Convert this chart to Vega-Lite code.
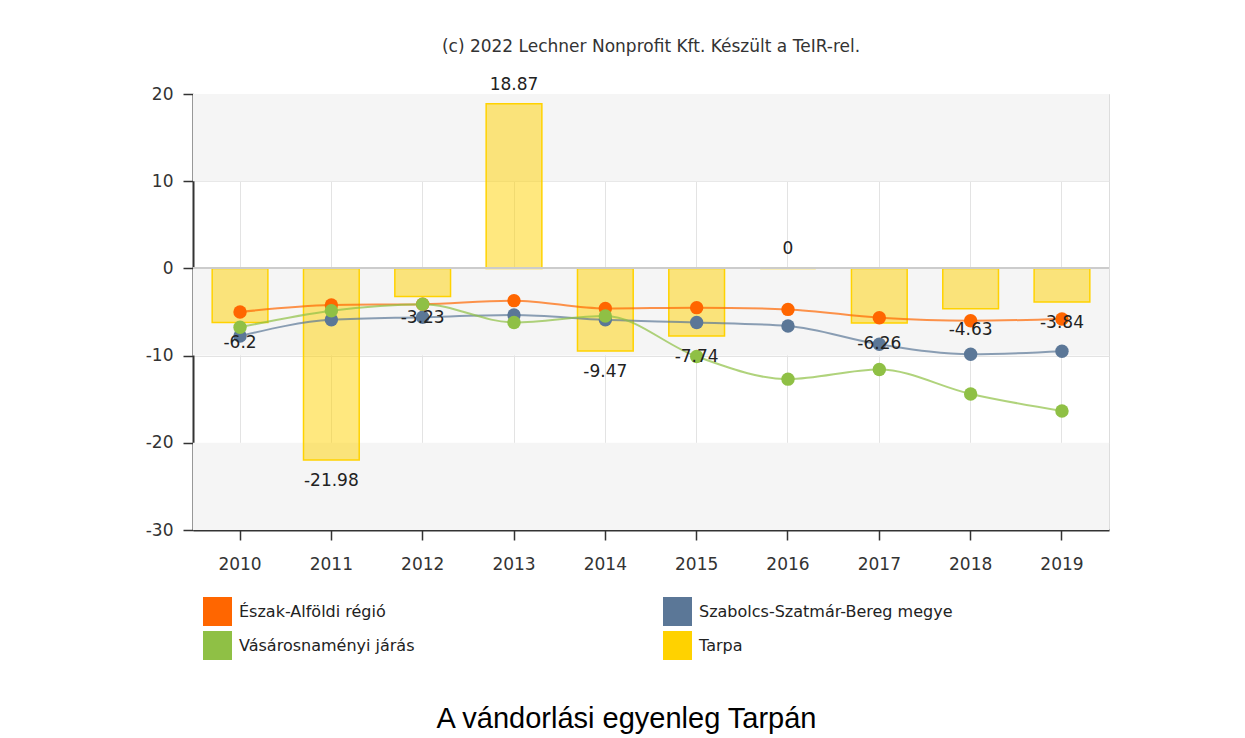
{
  "$schema": "https://vega.github.io/schema/vega-lite/v6.json",
  "width": 916,
  "height": 436,
  "autosize": {"type": "none"},
  "padding": {"left": 193, "top": 94, "right": 136, "bottom": 208},
  "background": "white",
  "title": {
    "text": "(c) 2022 Lechner Nonprofit Kft. Készült a TeIR-rel.",
    "font": "DejaVu Sans",
    "fontSize": 17,
    "fontWeight": "normal",
    "color": "#333333",
    "anchor": "middle",
    "offset": 20
  },
  "datasets": {
    "bands": [
      {"lo": 10, "hi": 20},
      {"lo": -10, "hi": 0},
      {"lo": -30, "hi": -20}
    ],
    "main": [
      {"year": "2010", "series": "Tarpa", "value": -6.2},
      {"year": "2011", "series": "Tarpa", "value": -21.98},
      {"year": "2012", "series": "Tarpa", "value": -3.23},
      {"year": "2013", "series": "Tarpa", "value": 18.87},
      {"year": "2014", "series": "Tarpa", "value": -9.47},
      {"year": "2015", "series": "Tarpa", "value": -7.74},
      {"year": "2016", "series": "Tarpa", "value": 0},
      {"year": "2017", "series": "Tarpa", "value": -6.26},
      {"year": "2018", "series": "Tarpa", "value": -4.63},
      {"year": "2019", "series": "Tarpa", "value": -3.84},
      {"year": "2010", "series": "Észak-Alföldi régió", "value": -5.0},
      {"year": "2011", "series": "Észak-Alföldi régió", "value": -4.2},
      {"year": "2012", "series": "Észak-Alföldi régió", "value": -4.1},
      {"year": "2013", "series": "Észak-Alföldi régió", "value": -3.7},
      {"year": "2014", "series": "Észak-Alföldi régió", "value": -4.6},
      {"year": "2015", "series": "Észak-Alföldi régió", "value": -4.5},
      {"year": "2016", "series": "Észak-Alföldi régió", "value": -4.7},
      {"year": "2017", "series": "Észak-Alföldi régió", "value": -5.65},
      {"year": "2018", "series": "Észak-Alföldi régió", "value": -6.0},
      {"year": "2019", "series": "Észak-Alföldi régió", "value": -5.8},
      {"year": "2010", "series": "Szabolcs-Szatmár-Bereg megye", "value": -7.75},
      {"year": "2011", "series": "Szabolcs-Szatmár-Bereg megye", "value": -5.9},
      {"year": "2012", "series": "Szabolcs-Szatmár-Bereg megye", "value": -5.6},
      {"year": "2013", "series": "Szabolcs-Szatmár-Bereg megye", "value": -5.35},
      {"year": "2014", "series": "Szabolcs-Szatmár-Bereg megye", "value": -5.9},
      {"year": "2015", "series": "Szabolcs-Szatmár-Bereg megye", "value": -6.2},
      {"year": "2016", "series": "Szabolcs-Szatmár-Bereg megye", "value": -6.6},
      {"year": "2017", "series": "Szabolcs-Szatmár-Bereg megye", "value": -8.7},
      {"year": "2018", "series": "Szabolcs-Szatmár-Bereg megye", "value": -9.85},
      {"year": "2019", "series": "Szabolcs-Szatmár-Bereg megye", "value": -9.5},
      {"year": "2010", "series": "Vásárosnaményi járás", "value": -6.75},
      {"year": "2011", "series": "Vásárosnaményi járás", "value": -4.85},
      {"year": "2012", "series": "Vásárosnaményi járás", "value": -4.1},
      {"year": "2013", "series": "Vásárosnaményi járás", "value": -6.2},
      {"year": "2014", "series": "Vásárosnaményi járás", "value": -5.45},
      {"year": "2015", "series": "Vásárosnaményi járás", "value": -10.1},
      {"year": "2016", "series": "Vásárosnaményi járás", "value": -12.7},
      {"year": "2017", "series": "Vásárosnaményi járás", "value": -11.6},
      {"year": "2018", "series": "Vásárosnaményi járás", "value": -14.4},
      {"year": "2019", "series": "Vásárosnaményi járás", "value": -16.35}
    ]
  },
  "data": {"name": "main"},
  "layer": [
    {
      "data": {"name": "bands"},
      "mark": {"type": "rect", "fill": "#f5f5f5"},
      "encoding": {
        "y": {"field": "lo", "type": "quantitative"},
        "y2": {"field": "hi"}
      }
    },
    {
      "transform": [{"filter": "datum.series === 'Tarpa'"}],
      "mark": {"type": "bar", "fill": "#ffd200", "fillOpacity": 0.5, "stroke": "#ffd200", "strokeWidth": 1.5},
      "encoding": {
        "x": {
          "field": "year",
          "type": "ordinal",
          "scale": {"paddingInner": 0.39, "paddingOuter": 0.21},
          "axis": {
            "title": "A vándorlási egyenleg Tarpán",
            "titleFont": "Liberation Sans",
            "titleFontSize": 29,
            "titleFontWeight": "normal",
            "titleColor": "#000000",
            "titleX": 433,
            "titleY": 188,
            "titleBaseline": "middle",
            "titleAlign": "center",
            "labelAngle": 0,
            "labelFont": "DejaVu Sans",
            "labelFontSize": 17,
            "labelColor": "#333333",
            "labelPadding": 16,
            "tickSize": 10,
            "tickColor": "#333333",
            "tickWidth": 1.5,
            "domainColor": "#333333",
            "domainWidth": 2,
            "grid": true,
            "gridColor": "#e3e3e3",
            "bandPosition": 0.5
          }
        },
        "y": {
          "field": "value",
          "type": "quantitative",
          "scale": {"domain": [-30, 20], "nice": false},
          "axis": {
            "title": null,
            "values": [-30, -20, -10, 0, 10, 20],
            "labelExpr": "replace(datum.label, '−', '-')",
            "labelFont": "DejaVu Sans",
            "labelFontSize": 17,
            "labelColor": "#333333",
            "labelPadding": 10,
            "tickSize": 10,
            "tickColor": "#333333",
            "tickWidth": 1.5,
            "domainColor": "#333333",
            "domainWidth": 2,
            "grid": true,
            "gridColor": "#e3e3e3"
          }
        }
      }
    },
    {
      "mark": {"type": "rule", "color": "#cccccc", "strokeWidth": 1.2},
      "encoding": {"y": {"datum": 0}}
    },
    {
      "transform": [{"filter": "datum.series !== 'Tarpa'"}],
      "mark": {"type": "line", "interpolate": "monotone", "strokeWidth": 2, "strokeOpacity": 0.7},
      "encoding": {
        "x": {"field": "year", "type": "ordinal"},
        "y": {"field": "value", "type": "quantitative"},
        "color": {
          "field": "series",
          "type": "nominal",
          "scale": {
            "domain": ["Észak-Alföldi régió", "Vásárosnaményi járás", "Szabolcs-Szatmár-Bereg megye", "Tarpa"],
            "range": ["#ff6600", "#8fc045", "#5b7797", "#ffd200"]
          },
          "legend": {
            "orient": "none",
            "legendX": 10,
            "legendY": 503,
            "columns": 2,
            "title": null,
            "symbolType": "square",
            "symbolSize": 841,
            "symbolStrokeWidth": 0,
            "symbolOpacity": 1,
            "labelFont": "DejaVu Sans",
            "labelFontSize": 16,
            "labelColor": "#222222",
            "labelOffset": 7,
            "labelLimit": 400,
            "columnPadding": 248,
            "rowPadding": 5
          }
        }
      }
    },
    {
      "transform": [{"filter": "datum.series !== 'Tarpa'"}],
      "mark": {"type": "circle", "size": 180, "opacity": 1},
      "encoding": {
        "x": {"field": "year", "type": "ordinal"},
        "y": {"field": "value", "type": "quantitative"},
        "color": {"field": "series", "type": "nominal"}
      }
    },
    {
      "transform": [{"filter": "datum.series === 'Tarpa' && datum.value < 0"}],
      "mark": {"type": "text", "font": "DejaVu Sans", "fontSize": 17, "color": "#222222", "baseline": "middle", "dy": 21},
      "encoding": {
        "x": {"field": "year", "type": "ordinal"},
        "y": {"field": "value", "type": "quantitative"},
        "text": {"field": "value", "type": "nominal"}
      }
    },
    {
      "transform": [{"filter": "datum.series === 'Tarpa' && datum.value >= 0"}],
      "mark": {"type": "text", "font": "DejaVu Sans", "fontSize": 17, "color": "#222222", "baseline": "middle", "dy": -19},
      "encoding": {
        "x": {"field": "year", "type": "ordinal"},
        "y": {"field": "value", "type": "quantitative"},
        "text": {"field": "value", "type": "nominal"}
      }
    }
  ]
}
